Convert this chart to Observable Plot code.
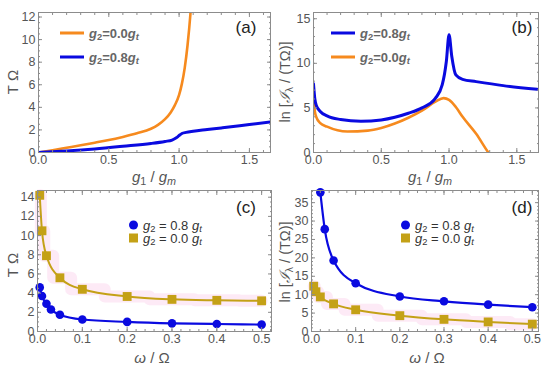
<!DOCTYPE html>
<html><head><meta charset="utf-8">
<script src="https://cdn.jsdelivr.net/npm/d3@7"></script>
<script src="https://cdn.jsdelivr.net/npm/@observablehq/plot@0.6"></script>
<style>
body{margin:0;background:#fff;font-family:"Liberation Sans",Arial,sans-serif;}
#fig{position:relative;width:550px;height:370px;overflow:hidden;background:#fff;}
#fig svg{position:absolute;}
.lbl{position:absolute;color:#555;font-size:15px;white-space:nowrap;}
.rot{transform:translate(-50%,-50%) rotate(-90deg);}
.cen{transform:translate(-50%,-50%);}
.tag{position:absolute;font-size:17px;color:#222;transform:translate(-50%,-50%);}
.leg{position:absolute;font-size:13px;white-space:nowrap;transform:translateY(-50%);}
.sw{position:absolute;transform:translateY(-50%);}
sub{font-size:72%;vertical-align:-0.3em;line-height:0}
</style></head><body><div id="fig"></div>
<script>
// ---------- data ----------
// panel (a): T*Omega vs g1/gm
const aOrangeX = [0, 0.1, 0.2, 0.3, 0.4, 0.5, 0.6, 0.7, 0.8, 0.85, 0.9, 0.94, 0.97, 1.0, 1.02, 1.04, 1.06, 1.08, 1.09];
const aOrangeY = [0, 0.2, 0.42, 0.64, 0.87, 1.1, 1.38, 1.7, 2.1, 2.45, 2.95, 3.55, 4.2, 5.1, 6.1, 7.5, 9.5, 12.2, 14];
const aBlueX = [0, 0.2, 0.4, 0.6, 0.8, 0.9, 0.95, 0.98, 1.0, 1.02, 1.05, 1.1, 1.2, 1.3, 1.4, 1.5, 1.65];
const aBlueY = [0, 0.14, 0.32, 0.55, 0.8, 0.98, 1.1, 1.3, 1.5, 1.68, 1.78, 1.88, 2.03, 2.18, 2.33, 2.48, 2.7];
// panel (b): ln[I/(T Omega)] vs g1/gm
const bBlueX = [0, 0.01, 0.02, 0.05, 0.1, 0.2, 0.35, 0.5, 0.6, 0.7, 0.8, 0.9, 0.95, 0.98, 1.0, 1.02, 1.05, 1.1, 1.2, 1.4, 1.65];
const bBlueY = [7.7, 6.0, 5.3, 4.6, 4.1, 3.7, 3.5, 3.65, 3.95, 4.4, 5.0, 6.1, 7.6, 10.2, 13.2, 10.8, 8.7, 8.2, 7.95, 7.5, 7.1];
const bOrangeX = [0, 0.01, 0.02, 0.05, 0.1, 0.25, 0.4, 0.5, 0.6, 0.7, 0.8, 0.9, 0.96, 1.0, 1.05, 1.1, 1.2, 1.29, 1.32];
const bOrangeY = [6.2, 4.6, 4.0, 3.3, 2.9, 2.35, 2.45, 2.75, 3.25, 3.9, 4.7, 5.7, 6.1, 5.9, 5.1, 4.0, 2.1, 0, -0.6];
// panel (c): T*Omega vs omega/Omega
const cBlueX = [0.005, 0.01, 0.02, 0.03, 0.05, 0.1, 0.2, 0.3, 0.4, 0.5];
const cBlueY = [4.6, 3.7, 2.9, 2.3, 1.75, 1.25, 1.0, 0.85, 0.78, 0.72];
const cGoldX = [0.005, 0.01, 0.02, 0.05, 0.1, 0.2, 0.3, 0.4, 0.5];
const cGoldY = [14.2, 10.5, 7.9, 5.6, 4.4, 3.65, 3.35, 3.25, 3.2];
// panel (d): ln[I/(T Omega)] vs omega/Omega
const dBlueX = [0.02, 0.03, 0.05, 0.1, 0.2, 0.3, 0.4, 0.5];
const dBlueY = [37.8, 27.8, 19.3, 13.1, 9.5, 8.2, 7.3, 6.6];
const dGoldX = [0.005, 0.01, 0.02, 0.05, 0.1, 0.2, 0.3, 0.4, 0.5];
const dGoldY = [12.3, 10.8, 9.4, 7.5, 5.9, 4.3, 3.3, 2.6, 2.0];

// ticks
const gTicks = [0, 0.5, 1.0, 1.5];
const wTicks = [0, 0.1, 0.2, 0.3, 0.4, 0.5];
const aYTicks = [0, 2, 4, 6, 8, 10, 12];
const bYTicks = [0, 5, 10, 15];
const cYTicks = [0, 2, 4, 6, 8, 10, 12, 14];
const dYTicks = [0, 5, 10, 15, 20, 25, 30, 35];

const ORANGE = "#f68a1e", BLUE = "#0a0ae0", GOLD = "#c4a116", PINK = "#fde6f4";
const AX = "#8c8c8c";

const zip = (xs, ys) => xs.map((x, i) => ({x, y: ys[i]}));
const range = (a, b, s) => d3.range(Math.round((b - a) / s) + 1).map(i => +(a + i * s).toFixed(6));

function panel(o) {
  const tk = (vals, anchor, size) => {
    const isX = anchor === "bottom" || anchor === "top";
    const shift = {bottom: {dy: -size}, top: {dy: size}, left: {dx: size}, right: {dx: -size}}[anchor];
    return (isX ? Plot.axisX : Plot.axisY)(vals, {anchor, tickSize: size, fill: "none", stroke: AX, label: null, ...shift});
  };
  const svg = Plot.plot({
    width: o.width, height: o.height,
    marginTop: o.mt, marginRight: o.mr, marginBottom: o.mb, marginLeft: o.ml,
    x: {domain: o.xDomain}, y: {domain: o.yDomain},
    style: {fontFamily: "Liberation Sans, Arial, sans-serif", fontSize: "12.5px", color: "#555", background: "transparent", overflow: "visible"},
    marks: [
      ...o.marks,
      Plot.frame({stroke: AX}),
      Plot.axisX(o.xMajor, {anchor: "bottom", tickSize: 0, tickPadding: 3, tickFormat: o.xFmt, label: null, fill: "#555"}),
      Plot.axisY(o.yMajor, {anchor: "left", tickSize: 0, tickPadding: 3, tickFormat: o.yFmt, label: null, fill: "#555"}),
      tk(o.xMajor, "bottom", 4), tk(o.xMinor, "bottom", 2),
      tk(o.xMajor, "top", 4), tk(o.xMinor, "top", 2),
      tk(o.yMajor, "left", 4), tk(o.yMinor, "left", 2),
      tk(o.yMajor, "right", 4), tk(o.yMinor, "right", 2)
    ]
  });
  svg.style.left = o.left + "px";
  svg.style.top = o.top + "px";
  document.getElementById("fig").appendChild(svg);
}

const line = (data, stroke, w) => Plot.line(data, {x: "x", y: "y", stroke, strokeWidth: w, curve: "monotone-x", clip: true});

panel({
  left: 0, top: 0, width: 275, height: 185, mt: 12, mr: 5, mb: 33, ml: 38,
  xDomain: [0, 1.65], yDomain: [0, 12.4],
  xMajor: gTicks, xMinor: range(0, 1.6, 0.1), yMajor: aYTicks, yMinor: range(0, 12, 0.5),
  xFmt: d3.format(".1f"), yFmt: d3.format("d"),
  marks: [line(zip(aOrangeX, aOrangeY), ORANGE, 2.6), line(zip(aBlueX, aBlueY), BLUE, 3)]
});
panel({
  left: 275, top: 0, width: 275, height: 185, mt: 12, mr: 12, mb: 33, ml: 38,
  xDomain: [0, 1.66], yDomain: [0, 15.7],
  xMajor: gTicks, xMinor: range(0, 1.6, 0.1), yMajor: bYTicks, yMinor: range(0, 15, 1),
  xFmt: d3.format(".1f"), yFmt: d3.format("d"),
  marks: [line(zip(bOrangeX, bOrangeY), ORANGE, 2.6), line(zip(bBlueX, bBlueY), BLUE, 3)]
});
const pts = (data, color, symbol, r) => Plot.dot(data, {x: "x", y: "y", fill: color, stroke: "none", symbol, r});
panel({
  left: 0, top: 185, width: 275, height: 185, mt: 5, mr: 4, mb: 39, ml: 37,
  xDomain: [0, 0.522], yDomain: [0, 14.7],
  xMajor: wTicks, xMinor: range(0, 0.52, 0.02), yMajor: cYTicks, yMinor: range(0, 14.5, 0.5),
  xFmt: d3.format(".1f"), yFmt: d3.format("d"),
  marks: [
    Plot.line(zip(cGoldX, cGoldY), {x: "x", y: "y", stroke: PINK, strokeWidth: 12, curve: "step", strokeOpacity: 0.85}),
    line(zip(cGoldX, cGoldY), GOLD, 2), pts(zip(cGoldX, cGoldY), GOLD, "square", 5),
    line(zip(cBlueX, cBlueY), BLUE, 2.2), pts(zip(cBlueX, cBlueY), BLUE, "circle", 4.3)
  ]
});
panel({
  left: 275, top: 185, width: 275, height: 185, mt: 5, mr: 12, mb: 39, ml: 36,
  xDomain: [0, 0.514], yDomain: [0, 38.3],
  xMajor: wTicks, xMinor: range(0, 0.5, 0.02), yMajor: dYTicks, yMinor: range(0, 38, 1),
  xFmt: d3.format(".1f"), yFmt: d3.format("d"),
  marks: [
    Plot.line(zip(dGoldX, dGoldY), {x: "x", y: "y", stroke: PINK, strokeWidth: 12, curve: "step", strokeOpacity: 0.85}),
    line(zip(dGoldX, dGoldY), GOLD, 2), pts(zip(dGoldX, dGoldY), GOLD, "square", 5),
    line(zip(dBlueX, dBlueY), BLUE, 2.2), pts(zip(dBlueX, dBlueY), BLUE, "circle", 4.3)
  ]
});

// ---------- text overlays ----------
const fig = document.getElementById("fig");
function add(html, cls, x, y, style = "") {
  const d = document.createElement("div");
  d.className = cls; d.innerHTML = html;
  d.style.cssText = `left:${x}px;top:${y}px;${style}`;
  fig.appendChild(d);
}
const lnI = 'ln [<span style="font-family:\'DejaVu Serif\',serif;font-style:italic">ℐ</span><sub>λ</sub> / (TΩ)]';
const gAxis = '<i>g</i><sub>1</sub> / <i>g</i><sub><i>m</i></sub>';
const wAxis = '<i>ω</i> / Ω';
add("T Ω", "lbl rot", 12, 82);
add(lnI, "lbl rot", 284, 82, "font-size:14.5px;");
add("T Ω", "lbl rot", 12, 265);
add(lnI, "lbl rot", 284, 262, "font-size:14.5px;");
add(gAxis, "lbl cen", 154, 176);
add(gAxis, "lbl cen", 430, 176);
add(wAxis, "lbl cen", 152, 357);
add(wAxis, "lbl cen", 427, 357);
add("(a)", "tag", 246, 28);
add("(b)", "tag", 522, 28);
add("(c)", "tag", 246, 208);
add("(d)", "tag", 522, 208);

// legends
const legTop = [
  {x: 60, y: 33, color: ORANGE, text: '<i>g</i><sub>2</sub>=0.0<i>g</i><sub><i>t</i></sub>'},
  {x: 60, y: 57, color: BLUE, text: '<i>g</i><sub>2</sub>=0.8<i>g</i><sub><i>t</i></sub>'},
  {x: 331, y: 33, color: BLUE, text: '<i>g</i><sub>2</sub>=0.8<i>g</i><sub><i>t</i></sub>'},
  {x: 331, y: 57, color: ORANGE, text: '<i>g</i><sub>2</sub>=0.0<i>g</i><sub><i>t</i></sub>'}
];
legTop.forEach(l => {
  add("", "sw", l.x, l.y, `width:24px;height:0;border-top:3.5px solid ${l.color};`);
  add(l.text, "leg", l.x + 29, l.y, "font-weight:bold;color:#666;");
});
const legBot = [
  {x: 133, y: 225, color: BLUE, shape: "circle", text: '<i>g</i><sub>2</sub> = 0.8 <i>g</i><sub><i>t</i></sub>'},
  {x: 133, y: 238, color: GOLD, shape: "square", text: '<i>g</i><sub>2</sub> = 0.0 <i>g</i><sub><i>t</i></sub>'},
  {x: 405, y: 225, color: BLUE, shape: "circle", text: '<i>g</i><sub>2</sub> = 0.8 <i>g</i><sub><i>t</i></sub>'},
  {x: 405, y: 238, color: GOLD, shape: "square", text: '<i>g</i><sub>2</sub> = 0.0 <i>g</i><sub><i>t</i></sub>'}
];
legBot.forEach(l => {
  const s = 9;
  add("", "sw", l.x - s / 2, l.y, `width:${s}px;height:${s}px;background:${l.color};border-radius:${l.shape === "circle" ? "50%" : "0"};`);
  add(l.text, "leg", l.x + 10, l.y, "color:#333;");
});
</script>
</body></html>
